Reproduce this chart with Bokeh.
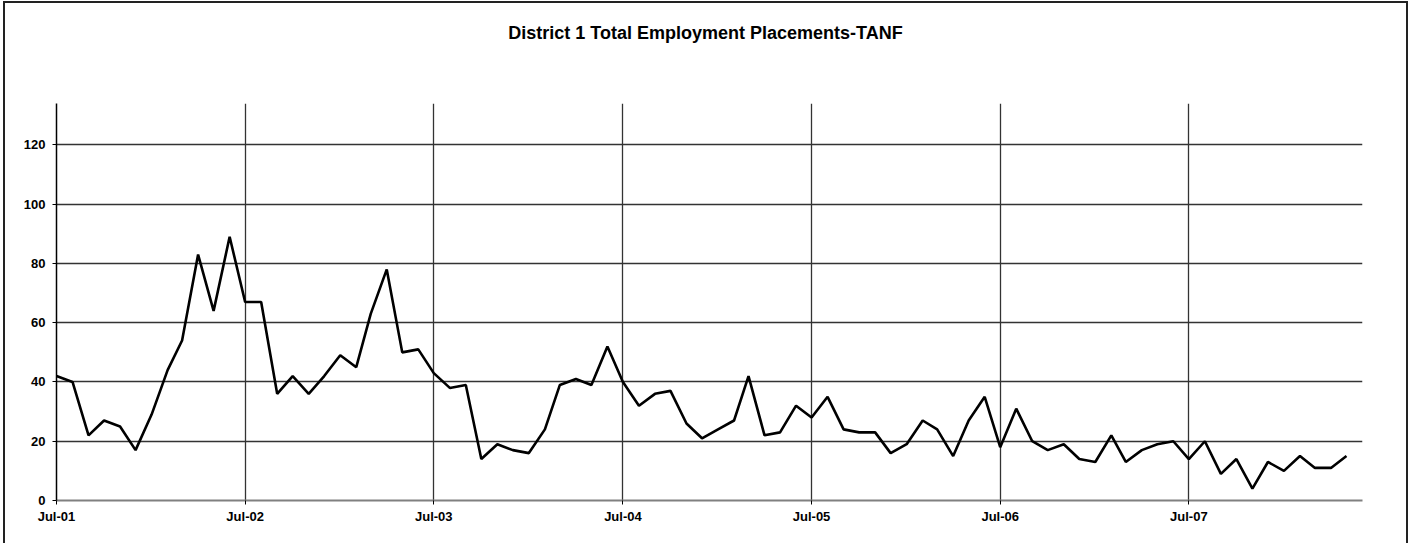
import pandas as pd
from bokeh.plotting import figure
from bokeh.layouts import column
from bokeh.models import FixedTicker, DatetimeTickFormatter, Range1d, ColumnDataSource, Div
from bokeh.embed import file_html
from bokeh.resources import INLINE

title_text = "District 1 Total Employment Placements-TANF"

start_month = "2001-07-01"
placements = [
    42, 40, 22, 27, 25, 17, 29, 44, 54, 83, 64, 89,
    67, 67, 36, 42, 36, 42, 49, 45, 63, 78, 50, 51,
    43, 38, 39, 14, 19, 17, 16, 24, 39, 41, 39, 52,
    40, 32, 36, 37, 26, 21, 24, 27, 42, 22, 23, 32,
    28, 35, 24, 23, 23, 16, 19, 27, 24, 15, 27, 35,
    18, 31, 20, 17, 19, 14, 13, 22, 13, 17, 19, 20,
    14, 20, 9, 14, 4, 13, 10, 15, 11, 11, 15,
]
x_tick_dates = ["2001-07-01", "2002-07-01", "2003-07-01", "2004-07-01",
                "2005-07-01", "2006-07-01", "2007-07-01"]
y_ticks = [0, 20, 40, 60, 80, 100, 120]

months = pd.date_range(start_month, periods=len(placements), freq="MS")
src = ColumnDataSource(dict(month=months, value=placements))

font = "Liberation Sans"

title_div = Div(
    text=title_text, width=1401, height=60, margin=0,
    styles={"font-family": "'Liberation Sans', Arial, sans-serif", "font-weight": "bold",
            "font-size": "18px", "text-align": "center", "color": "black",
            "padding-top": "20px", "box-sizing": "border-box", "line-height": "21px"},
)

p = figure(
    width=1401, height=480,
    x_axis_type="datetime",
    x_range=Range1d(pd.Timestamp("2001-07-01"), pd.Timestamp("2008-06-01")),
    y_range=Range1d(0, 134),
    output_backend="svg", toolbar_location=None,
    min_border_left=51, min_border_right=44, min_border_top=40, min_border_bottom=43,
)
p.outline_line_color = None
p.background_fill_color = "white"
p.border_fill_color = "white"

p.line("month", "value", source=src, line_color="black", line_width=2.6)

tick_ms = [pd.Timestamp(d).value // 10**6 for d in x_tick_dates]
p.xaxis.ticker = FixedTicker(ticks=tick_ms)
fmt = "%b-%y"
p.xaxis.formatter = DatetimeTickFormatter(
    milliseconds=fmt, seconds=fmt, minsec=fmt, minutes=fmt, hourmin=fmt,
    hours=fmt, days=fmt, months=fmt, years=fmt)
p.yaxis.ticker = FixedTicker(ticks=y_ticks)

for ax in (p.xaxis, p.yaxis):
    ax.major_label_text_font = font
    ax.major_label_text_font_style = "bold"
    ax.major_label_text_font_size = "13px"
    ax.major_label_text_color = "black"
    ax.minor_tick_line_color = None
    ax.major_tick_in = 0
    ax.major_tick_out = 4
    ax.major_tick_line_color = "black"

p.xaxis.axis_line_color = "#808080"
p.xaxis.axis_line_width = 2
p.xaxis.major_label_standoff = 4
p.yaxis.axis_line_color = "black"
p.yaxis.axis_line_width = 1.5
p.yaxis.major_label_standoff = 7

p.xgrid.ticker = FixedTicker(ticks=tick_ms)
p.ygrid.ticker = FixedTicker(ticks=[20, 40, 60, 80, 100, 120])
p.xgrid.grid_line_color = "#333333"
p.ygrid.grid_line_color = "#333333"
p.xgrid.grid_line_width = 1.3
p.ygrid.grid_line_width = 1.3

layout = column(title_div, p, spacing=0,
                styles={"border-left": "2px solid #222", "border-top": "2px solid #222",
                        "border-right": "2px solid #222",
                        "margin-left": "3px", "margin-top": "1px",
                        "background-color": "white"})

open("out.html", "w").write(file_html(layout, INLINE))
